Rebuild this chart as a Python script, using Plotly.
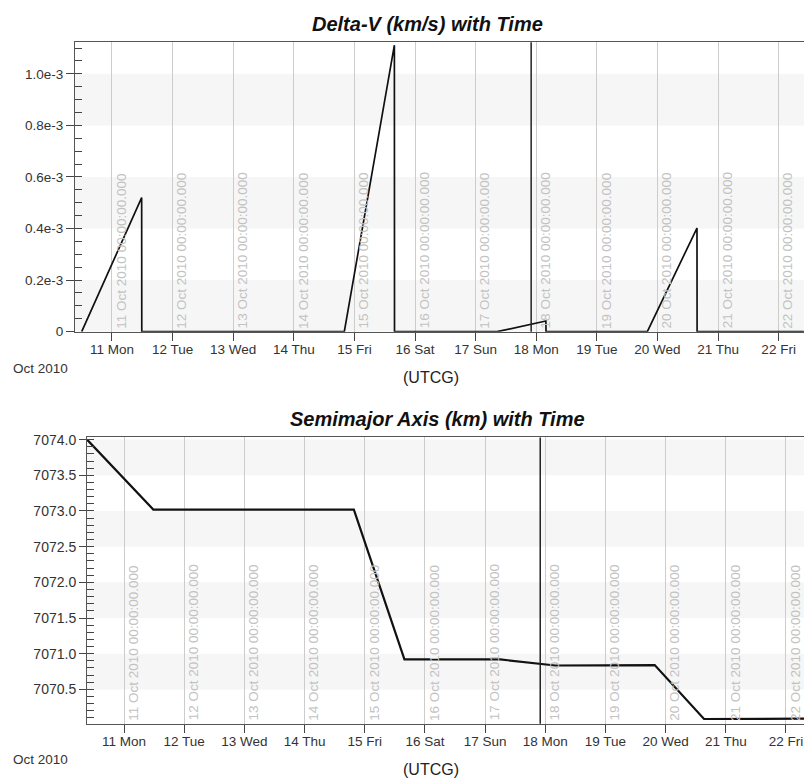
import plotly.graph_objects as go

# ---------------- data ----------------
day_dates = ['2010-10-11', '2010-10-12', '2010-10-13', '2010-10-14', '2010-10-15', '2010-10-16',
             '2010-10-17', '2010-10-18', '2010-10-19', '2010-10-20', '2010-10-21', '2010-10-22']
day_labels = ['11 Oct 2010 00:00:00.000', '12 Oct 2010 00:00:00.000', '13 Oct 2010 00:00:00.000',
              '14 Oct 2010 00:00:00.000', '15 Oct 2010 00:00:00.000', '16 Oct 2010 00:00:00.000',
              '17 Oct 2010 00:00:00.000', '18 Oct 2010 00:00:00.000', '19 Oct 2010 00:00:00.000',
              '20 Oct 2010 00:00:00.000', '21 Oct 2010 00:00:00.000', '22 Oct 2010 00:00:00.000']

dv_time = ['2010-10-10 12:00', '2010-10-11 11:45', '2010-10-11 11:48', '2010-10-14 20:00',
           '2010-10-15 15:50', '2010-10-15 15:53', '2010-10-17 08:30', '2010-10-18 03:50',
           '2010-10-18 03:53', '2010-10-19 20:00', '2010-10-20 15:40', '2010-10-20 15:43',
           '2010-10-22 10:00']
dv_vals = [0.0, 0.52e-3, 0.0, 0.0, 1.111e-3, 0.0, 0.0, 0.0415e-3, 0.0, 0.0, 0.402e-3, 0.0, 0.0]

sma_time = ['2010-10-10 09:14', '2010-10-11 11:40', '2010-10-14 19:40', '2010-10-15 15:50',
            '2010-10-17 06:00', '2010-10-18 04:00', '2010-10-19 19:40', '2010-10-20 15:20',
            '2010-10-22 07:12']
sma_vals = [7074.0, 7073.02, 7073.02, 7070.92, 7070.92, 7070.835, 7070.84, 7070.085, 7070.09]

cursor_time = '2010-10-17 22:00'

dv_tickvals = [0.0, 0.2e-3, 0.4e-3, 0.6e-3, 0.8e-3, 1.0e-3]
dv_ticktext = ['0', '0.2e-3', '0.4e-3', '0.6e-3', '0.8e-3', '1.0e-3']
dv_bands = [(0.0, 0.2e-3), (0.4e-3, 0.6e-3), (0.8e-3, 1.0e-3)]
sma_bands = [(7073.5, 7074.0), (7072.5, 7073.0), (7071.5, 7072.0), (7070.5, 7071.0)]

top_xrange = ['2010-10-10 09:21', '2010-10-22 10:03']
bot_xrange = ['2010-10-10 09:14', '2010-10-22 07:12']
top_yrange = [0.0, 1.122e-3]
bot_yrange = [7070.02, 7074.03]

titles = ['Delta-V (km/s) with Time', 'Semimajor Axis (km) with Time']
xtitle = '(UTCG)'
month_label = 'Oct 2010'

# ---------------- figure ----------------
W, H = 804, 784
FONT = 'Arial, Liberation Sans, sans-serif'


def px_x(p):
    return p / W


def px_y(p):
    return 1 - p / H


fig = go.Figure()
fig.add_trace(go.Scatter(x=dv_time, y=dv_vals, mode='lines', line=dict(color='#111111', width=1.7),
                         xaxis='x', yaxis='y', showlegend=False, hoverinfo='skip'))
fig.add_trace(go.Scatter(x=sma_time, y=sma_vals, mode='lines', line=dict(color='#111111', width=2.2),
                         xaxis='x2', yaxis='y2', showlegend=False, hoverinfo='skip'))
# empty helper traces so the minor-tick overlay axes are drawn
fig.add_trace(go.Scatter(x=[None], y=[None], mode='lines', xaxis='x', yaxis='y3',
                         showlegend=False, hoverinfo='skip'))
fig.add_trace(go.Scatter(x=[None], y=[None], mode='lines', xaxis='x2', yaxis='y4',
                         showlegend=False, hoverinfo='skip'))

common_x = dict(type='date', tick0='2010-10-11', dtick=86400000, tickformat='%-d %a',
                ticks='outside', ticklen=8, tickcolor='#444444', showline=True, linecolor='#555555',
                linewidth=1, mirror=True, showgrid=True, gridcolor='#cccccc', gridwidth=1,
                ticklabelstandoff=-3,
                tickfont=dict(family=FONT, size=13.5, color='#333333'), zeroline=False)

fig.update_layout(
    width=W, height=H, margin=dict(l=0, r=0, t=0, b=0),
    paper_bgcolor='white', plot_bgcolor='white', showlegend=False,
    xaxis=dict(domain=[px_x(75), 1], anchor='y', range=top_xrange, **common_x),
    yaxis=dict(domain=[px_y(331.6), px_y(37)], anchor='x', range=top_yrange,
               tickvals=dv_tickvals, ticktext=dv_ticktext, ticks='outside', ticklen=8,
               tickcolor='#444444', showline=True, linecolor='#555555', showgrid=False,
               zeroline=False, tickfont=dict(family=FONT, size=13.5, color='#333333')),
    yaxis3=dict(overlaying='y', anchor='x', range=top_yrange, tick0=0, dtick=0.05e-3,
                tickmode='linear', ticks='inside', ticklen=7, tickcolor='#444444',
                showticklabels=False, showgrid=False, showline=False, zeroline=False,
                side='left', fixedrange=True),
    xaxis2=dict(domain=[px_x(87), 1], anchor='y2', range=bot_xrange, **common_x),
    yaxis2=dict(domain=[px_y(730.7), px_y(439.3)], anchor='x2', range=bot_yrange,
                tick0=7070.5, dtick=0.5, tickformat='.1f', ticks='outside', ticklen=7,
                tickcolor='#444444', showline=True, linecolor='#555555', showgrid=False,
                zeroline=False, tickfont=dict(family=FONT, size=14, color='#333333')),
    yaxis4=dict(overlaying='y2', anchor='x2', range=bot_yrange, tick0=7070.0, dtick=0.1,
                tickmode='linear', ticks='inside', ticklen=7, tickcolor='#444444',
                showticklabels=False, showgrid=False, showline=False, zeroline=False,
                side='left', fixedrange=True),
)

shapes = []
for y0, y1 in dv_bands:
    shapes.append(dict(type='rect', xref='x domain', yref='y', x0=0, x1=1, y0=y0, y1=y1,
                       fillcolor='#f6f6f6', line=dict(width=0), layer='below'))
for y0, y1 in sma_bands:
    shapes.append(dict(type='rect', xref='x2 domain', yref='y2', x0=0, x1=1, y0=y0, y1=y1,
                       fillcolor='#f6f6f6', line=dict(width=0), layer='below'))
shapes.append(dict(type='line', xref='x', yref='y domain', x0=cursor_time, x1=cursor_time,
                   y0=0, y1=1, line=dict(color='#222222', width=1.5)))
shapes.append(dict(type='line', xref='x2', yref='y2 domain', x0=cursor_time, x1=cursor_time,
                   y0=0, y1=1, line=dict(color='#222222', width=1.5)))
fig.update_layout(shapes=shapes)

ann = []
for xr, yr in (('x', 'y domain'), ('x2', 'y2 domain')):
    for d, lab in zip(day_dates, day_labels):
        ann.append(dict(xref=xr, yref=yr, x=d, y=0, xanchor='left', yanchor='bottom',
                        text=lab, textangle=-90, showarrow=False, yshift=1,
                        font=dict(family=FONT, size=13.5, color='#c2c2c2')))

ann.append(dict(xref='paper', yref='paper', x=px_x(427), y=px_y(18), xanchor='center',
                yanchor='middle', text='<b><i>' + titles[0] + '</i></b>', showarrow=False,
                font=dict(family=FONT, size=20, color='#111111')))
ann.append(dict(xref='paper', yref='paper', x=px_x(587), y=px_y(421), xanchor='right',
                yanchor='middle', text='<b><i>' + titles[1] + '</i></b>', showarrow=False,
                font=dict(family=FONT, size=20, color='#111111')))
for ycen in (378, 777):
    ann.append(dict(xref='paper', yref='paper', x=px_x(431), y=px_y(ycen), xanchor='center',
                    yanchor='middle', text=xtitle, showarrow=False,
                    font=dict(family=FONT, size=16, color='#222222')))
for ycen in (369, 766.7):
    ann.append(dict(xref='paper', yref='paper', x=px_x(11), y=px_y(ycen), xanchor='left',
                    yanchor='middle', text=month_label, showarrow=False,
                    font=dict(family=FONT, size=13.5, color='#333333')))
fig.update_layout(annotations=ann)

fig.write_html('out.html', config={'displayModeBar': False},
               post_script="document.body.style.margin='0';document.body.style.overflow='hidden';")
